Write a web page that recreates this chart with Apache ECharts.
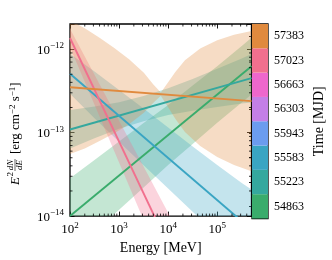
<!DOCTYPE html>
<html><head><meta charset="utf-8">
<script src="https://cdn.jsdelivr.net/npm/echarts@6/dist/echarts.min.js"></script>
<style>html,body{margin:0;padding:0;background:#fff}#c{width:332px;height:260px}</style>
</head><body><div id="c"></div>
<script>
// ---------- data ----------
const timeLabels = ['54863','55223','55583','55943','56303','56663','57023','57383'];
const binColors  = ['#3aac6c','#35a89e','#3aa5c3','#6b9cef','#c47fe7','#ee67cc','#f1708e','#e08a3e'];
const xMinor = [200,300,400,500,600,700,800,900,2000,3000,4000,5000,6000,7000,8000,9000,
                20000,30000,40000,50000,60000,70000,80000,90000,200000,300000,400000];
const yMinor = [2e-14,3e-14,4e-14,5e-14,6e-14,7e-14,8e-14,9e-14,2e-13,3e-13,4e-13,5e-13,6e-13,7e-13,8e-13,9e-13];

// bin 54863 (green)
const greenLine = [[100,1.0e-14],[500000,6.25e-13]];
const greenE  = [100,316,1000,3162,10000,31623,100000,316228,500000];
const greenUp = [2.85e-14,4.71e-14,7.85e-14,1.30e-13,2.14e-13,3.66e-13,6.25e-13,1.09e-12,1.37e-12];
const greenLo = [3.51e-15,6.50e-15,1.19e-14,2.20e-14,4.08e-14,7.31e-14,1.31e-13,2.29e-13,2.86e-13];
// bin 55223 (teal)
const tealLine = [[100,1.09e-13],[500000,4.5e-13]];
const tealE  = [100,316,1000,3162,10000,31623,100000,316228,500000];
const tealUp = [1.86e-13,2.05e-13,2.31e-13,2.74e-13,3.39e-13,4.40e-13,5.82e-13,7.73e-13,8.73e-13];
const tealLo = [6.44e-14,8.55e-14,1.11e-13,1.37e-13,1.62e-13,1.83e-13,2.02e-13,2.23e-13,2.30e-13];
// bin 55583 (blue)
const blueLine = [[100,5.08e-13],[500000,6.9e-15]];
const blueE  = [100,316,1000,3162,10000,31623,100000,316228,500000];
const blueUp = [8.83e-13,5.41e-13,3.24e-13,1.94e-13,1.15e-13,6.81e-14,4.08e-14,2.50e-14,2.08e-14];
const blueLo = [2.92e-13,1.49e-13,7.78e-14,4.06e-14,2.14e-14,1.13e-14,5.90e-15,3.01e-15,2.28e-15];
// bin 57023 (pink)
const pinkLine = [[100,1.36e-12],[500000,3.5e-17]];
const pinkE  = [100,316,1000,3162,10000,31623];
const pinkUp = [1.75e-12,4.93e-13,1.39e-13,3.92e-14,1.10e-14,3.11e-15];
const pinkLo = [1.05e-12,2.15e-13,4.40e-14,8.97e-15,1.83e-15,3.74e-16];
// bin 57383 (orange)
const orangeLine = [[100,3.5e-13],[500000,2.38e-13]];
const orangeE  = [100,200,400,800,1600,3200,5000,7100,10000,14000,22000,45000,100000,220000,500000];
const orangeUp = [2.21e-12,1.78e-12,1.37e-12,1.03e-12,7.59e-13,5.21e-13,3.78e-13,3.03e-13,4.02e-13,5.33e-13,7.38e-13,1.02e-12,1.28e-12,1.49e-12,1.65e-12];
const orangeLo = [5.56e-14,6.47e-14,7.91e-14,9.86e-14,1.26e-13,1.73e-13,2.28e-13,2.76e-13,2.01e-13,1.47e-13,1.02e-13,6.90e-14,5.11e-14,4.10e-14,3.44e-14];

// ---------- chart ----------
const FONT = '"Liberation Serif","DejaVu Serif",serif';
const chart = echarts.init(document.getElementById('c'));

function powLabel(v){
  const l = Math.log10(v), r = Math.round(l);
  if (Math.abs(l - r) > 1e-6) return '';
  return '{b|10}{s|' + (r < 0 ? '\u2212' + (-r) : r) + '}';
}
const richLab = {
  b:{fontSize:13,fontFamily:FONT,color:'#000',verticalAlign:'bottom'},
  s:{fontSize:9,fontFamily:FONT,color:'#000',verticalAlign:'bottom',padding:[0,0,6,0]}
};

function clipRect(params){
  const c = params.coordSys;
  return {type:'rect', shape:{x:c.x, y:c.y, width:c.width, height:c.height}};
}
function band(E, up, lo, color){
  const data = E.map((e,i)=>[e, lo[i], up[i]]);
  return {
    type:'custom', xAxisIndex:0, yAxisIndex:0, silent:true, z:1, clip:true,
    encode:{x:0, y:[1,2]}, data,
    renderItem(params, api){
      if (params.dataIndex !== 0) return;
      const pts = [];
      for (let i=0;i<data.length;i++) pts.push(api.coord([data[i][0], data[i][2]]));
      for (let i=data.length-1;i>=0;i--) pts.push(api.coord([data[i][0], data[i][1]]));
      return {type:'polygon', shape:{points:pts}, clipPath:clipRect(params),
              style:{fill:color, opacity:0.3}};
    }
  };
}
function line(d, color){
  return {type:'line', xAxisIndex:0, yAxisIndex:0, data:d, symbol:'none', clip:true, silent:true, z:3,
          lineStyle:{color, width:1.9}};
}
const minorX = {
  type:'custom', xAxisIndex:0, yAxisIndex:0, silent:true, z:5,
  data: xMinor.map(v=>[v, 1e-14]), encode:{x:0,y:1},
  renderItem(params, api){
    const p = api.coord([api.value(0), 1e-14]);
    const c = params.coordSys, L = 2.5;
    return {type:'group', children:[
      {type:'line', shape:{x1:p[0],y1:c.y+c.height,x2:p[0],y2:c.y+c.height-L}, style:{stroke:'#000',lineWidth:0.8}},
      {type:'line', shape:{x1:p[0],y1:c.y,x2:p[0],y2:c.y+L}, style:{stroke:'#000',lineWidth:0.8}}
    ]};
  }
};
const minorY = {
  type:'custom', xAxisIndex:0, yAxisIndex:0, silent:true, z:5,
  data: yMinor.map(v=>[100, v]), encode:{x:0,y:1},
  renderItem(params, api){
    const p = api.coord([100, api.value(1)]);
    const c = params.coordSys, L = 2.5;
    return {type:'group', children:[
      {type:'line', shape:{x1:c.x,y1:p[1],x2:c.x+L,y2:p[1]}, style:{stroke:'#000',lineWidth:0.8}},
      {type:'line', shape:{x1:c.x+c.width,y1:p[1],x2:c.x+c.width-L,y2:p[1]}, style:{stroke:'#000',lineWidth:0.8}}
    ]};
  }
};

const tick = {show:true, inside:true, length:4.5, lineStyle:{color:'#000', width:0.9}};
const option = {
  animation:false,
  backgroundColor:'#fff',
  grid:[
    {left:70, top:24, width:181.5, height:194.5, show:true, borderColor:'#000', borderWidth:1.3, backgroundColor:'transparent'},
    {left:252, top:24, width:16, height:194.5, show:true, borderColor:'#000', borderWidth:1.3, backgroundColor:'transparent'}
  ],
  xAxis:[
    {type:'log', gridIndex:0, min:100, max:500000, position:'bottom',
     axisLine:{show:false}, axisTick:tick, splitLine:{show:false},
     axisLabel:{formatter:powLabel, rich:richLab, margin:5, showMinLabel:true, showMaxLabel:true},
     name:'Energy [MeV]', nameLocation:'middle', nameGap:21,
     nameTextStyle:{fontFamily:FONT, fontSize:14, color:'#000'}},
    {type:'log', gridIndex:0, min:100, max:500000, position:'top',
     axisLine:{show:false}, axisTick:tick, splitLine:{show:false}, axisLabel:{show:false}},
    {type:'value', gridIndex:1, min:0, max:1, show:false}
  ],
  yAxis:[
    {type:'log', gridIndex:0, min:1e-14, max:2e-12, position:'left',
     axisLine:{show:false}, axisTick:tick, splitLine:{show:false},
     axisLabel:{formatter:powLabel, rich:richLab, margin:6}},
    {type:'log', gridIndex:0, min:1e-14, max:2e-12, position:'right',
     axisLine:{show:false}, axisTick:tick, splitLine:{show:false}, axisLabel:{show:false}},
    {type:'category', gridIndex:1, data:timeLabels, position:'right',
     axisLine:{show:false}, splitLine:{show:false},
     axisTick:{show:true, inside:true, alignWithLabel:true, length:3, lineStyle:{color:'#000', width:0.9}},
     axisLabel:{fontFamily:FONT, fontSize:12, color:'#000', margin:6},
     name:'Time [MJD]', nameLocation:'middle', nameRotate:90, nameGap:44,
     nameTextStyle:{fontFamily:FONT, fontSize:14, color:'#000'}}
  ],
  series:[
    band(greenE, greenUp, greenLo, binColors[0]),
    band(tealE, tealUp, tealLo, binColors[1]),
    band(blueE, blueUp, blueLo, binColors[2]),
    band(pinkE, pinkUp, pinkLo, binColors[6]),
    band(orangeE, orangeUp, orangeLo, binColors[7]),
    line(greenLine, binColors[0]),
    line(tealLine, binColors[1]),
    line(blueLine, binColors[2]),
    line(pinkLine, binColors[6]),
    line(orangeLine, binColors[7]),
    minorX, minorY,
    {type:'bar', xAxisIndex:2, yAxisIndex:2, barWidth:'100%', silent:true, z:0,
     data: timeLabels.map((t,i)=>({value:1, itemStyle:{color:binColors[i]}}))}
  ],
  graphic:[{
    type:'group', x:16, y:122, rotation:Math.PI/2,
    children:[
      {type:'text', x:-63, y:0, style:{text:'E', font:'italic 13px '+FONT, fill:'#000', verticalAlign:'middle'}},
      {type:'text', x:-54.5, y:-5, style:{text:'2', font:'9px '+FONT, fill:'#000', verticalAlign:'middle'}},
      {type:'text', x:-43, y:-5.5, style:{text:'dN', font:'italic 9px '+FONT, fill:'#000', align:'center', verticalAlign:'middle'}},
      {type:'line', shape:{x1:-49, y1:-1, x2:-37, y2:-1}, style:{stroke:'#000', lineWidth:0.6}},
      {type:'text', x:-43, y:4, style:{text:'dE', font:'italic 9px '+FONT, fill:'#000', align:'center', verticalAlign:'middle'}},
      {type:'text', x:-32, y:0, style:{text:'[erg cm{s|\u22122} s{s|\u22121}]', font:'13px '+FONT, fill:'#000', verticalAlign:'middle',
        rich:{s:{font:'9px '+FONT, fill:'#000', padding:[0,0,7,0]}}}}
    ]
  }]
};
chart.setOption(option);
</script></body></html>
